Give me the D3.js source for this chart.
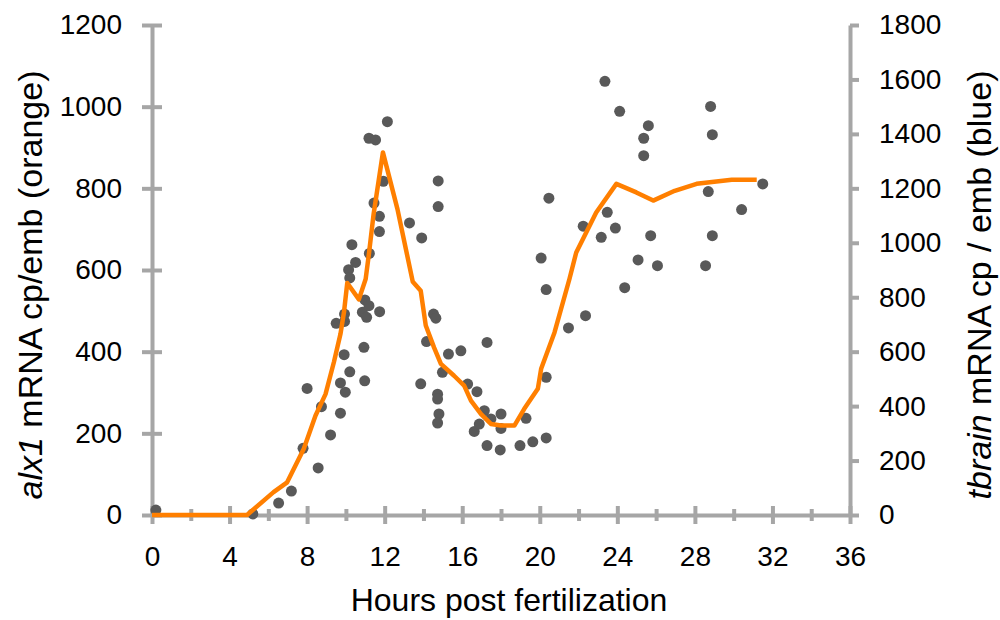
<!DOCTYPE html>
<html>
<head>
<meta charset="utf-8">
<script src="https://cdn.jsdelivr.net/npm/d3@7"></script>
<style>
  html, body { margin: 0; padding: 0; background: #fff; }
  svg { display: block; font-family: "Liberation Sans", Arial, sans-serif; }
</style>
</head>
<body>
<svg id="chart" width="1000" height="620"></svg>
<script>
// ---- data ----
const xTicks = [0, 4, 8, 12, 16, 20, 24, 28, 32, 36];
const xMinorTicks = [2, 6, 10, 14, 18, 22, 26, 30, 34];
const leftTicks = [0, 200, 400, 600, 800, 1000, 1200];
const rightTicks = [0, 200, 400, 600, 800, 1000, 1200, 1400, 1600, 1800];

// alx1 (orange line, left axis): hours, copies/embryo
const alx1Hours = [0, 4.9, 6.27, 6.97, 7.83, 8.43, 8.95, 9.38, 9.72, 9.9, 10.07, 10.67, 11.02, 11.2, 11.43, 11.91,
  12.66, 13.45, 13.86, 14.12, 14.55, 14.9, 15.58, 16.1, 16.45, 16.97, 17.48, 18.0, 18.69, 19.2, 19.9, 20.07,
  20.76, 21.53, 21.88, 22.91, 23.95, 24.98, 25.85, 26.96, 28.09, 29.9, 31.19];
const alx1Values = [0, 0, 56, 80, 162, 243, 296, 374, 443, 496, 568, 528, 578, 644, 737, 888,
  749, 571, 549, 464, 410, 370, 341, 317, 280, 247, 223, 219, 219, 260, 309, 358,
  447, 578, 643, 741, 811, 790, 770, 794, 811, 821, 821];

// tbrain (dots, right axis): hours, copies/embryo
const tbrainHours = [0.2, 5.2, 6.53, 7.19, 7.79, 8.0, 8.57, 8.74, 9.21, 9.5, 9.72, 9.72, 9.91, 9.93, 9.93, 9.97,
  10.14, 10.2, 10.2, 10.31, 10.5, 10.85, 10.93, 10.97, 10.98, 11.07, 11.19, 11.19, 11.21, 11.45, 11.53, 11.73,
  11.73, 11.74, 11.93, 12.14, 13.28, 13.86, 13.91, 14.16, 14.52, 14.64, 14.73, 14.73, 14.76, 14.76, 14.8, 14.73,
  14.98, 15.29, 15.93, 16.28, 16.62, 16.76, 16.88, 17.14, 17.28, 17.28, 17.48, 17.96, 18.0, 18.0, 18.98, 19.29,
  19.64, 20.07, 20.33, 20.33, 20.33, 20.47, 21.48, 22.24, 22.36, 23.17, 23.36, 23.48, 23.9, 24.12, 24.38, 25.07,
  25.36, 25.36, 25.6, 25.72, 26.07, 28.55, 28.69, 28.81, 28.9, 28.9, 30.41, 31.5];
const tbrainValues = [18, 4, 44, 88, 245, 465, 173, 398, 294, 704, 374, 485, 589, 711, 738, 451,
  901, 871, 526, 993, 928, 745, 616, 493, 790, 726, 769, 1384, 961, 1146, 1378, 1097,
  1041, 747, 1226, 1445, 1073, 482, 1018, 637, 738, 723, 444, 426, 1227, 1133, 371, 338,
  524, 591, 603, 481, 307, 453, 334, 383, 634, 255, 353, 239, 371, 318, 255, 355,
  269, 944, 283, 506, 828, 1164, 687, 1061, 732, 1020, 1593, 1112, 1054, 1483, 835, 937,
  1384, 1320, 1430, 1026, 916, 916, 1188, 1501, 1397, 1026, 1122, 1216];

// ---- chart ----
const svg = d3.select("#chart");
const axisColor = "#a6a6a6";
const x = d3.scaleLinear().domain([0, 36]).range([152, 850]);
const yL = d3.scaleLinear().domain([0, 1200]).range([515, 25]);
const yR = d3.scaleLinear().domain([0, 1800]).range([515, 25]);

function styleAxis(g) {
  g.selectAll("path.domain").attr("stroke", axisColor).attr("stroke-width", 4);
  g.selectAll(".tick line").attr("stroke", axisColor).attr("stroke-width", 4);
  g.selectAll(".tick text").attr("fill", "#000").attr("font-size", 28)
    .attr("font-family", "'Liberation Sans', Arial, sans-serif");
}

// x minor ticks
const gxm = svg.append("g").attr("transform", `translate(0,${yL(0)})`)
  .call(d3.axisBottom(x).tickValues(xMinorTicks).tickFormat("").tickSizeOuter(0));
gxm.select("path.domain").remove();
gxm.selectAll(".tick line").attr("y1", -6).attr("y2", 6);
styleAxis(gxm);

// x major
const gx = svg.append("g").attr("transform", `translate(0,${yL(0)})`)
  .call(d3.axisBottom(x).tickValues(xTicks).tickFormat(d3.format("d")).tickSizeOuter(0));
gx.selectAll(".tick line").attr("y1", -9).attr("y2", 9);
gx.selectAll(".tick text").attr("y", 51).attr("dy", 0);
styleAxis(gx);

// left axis
const gl = svg.append("g").attr("transform", `translate(${x(0)},0)`)
  .call(d3.axisLeft(yL).tickValues(leftTicks).tickFormat(d3.format("d")).tickSizeOuter(0));
gl.selectAll(".tick line").attr("x1", -10).attr("x2", 10);
gl.selectAll(".tick text").attr("x", -30);
styleAxis(gl);

// right axis
const gr = svg.append("g").attr("transform", `translate(${x(36)},0)`)
  .call(d3.axisRight(yR).tickValues(rightTicks).tickFormat(d3.format("d")).tickSizeOuter(0).tickSizeInner(9));
gr.selectAll(".tick text").attr("x", 29);
styleAxis(gr);

// dots
svg.append("g").selectAll("circle")
  .data(tbrainHours.map((h, i) => [h, tbrainValues[i]]))
  .join("circle")
  .attr("cx", d => x(d[0]))
  .attr("cy", d => yR(d[1]))
  .attr("r", 5.5)
  .attr("fill", "#595959");

// orange line
const line = d3.line().x(d => x(d[0])).y(d => yL(d[1]));
svg.append("path")
  .datum(alx1Hours.map((h, i) => [h, alx1Values[i]]))
  .attr("d", line)
  .attr("fill", "none")
  .attr("stroke", "#ff7f00")
  .attr("stroke-width", 4.5)
  .attr("stroke-linejoin", "round");

// titles
svg.append("text")
  .attr("x", 509).attr("y", 611)
  .attr("text-anchor", "middle")
  .attr("font-size", 32)
  .text("Hours post fertilization");

const lt = svg.append("text")
  .attr("transform", "translate(42,285) rotate(-90)")
  .attr("text-anchor", "middle")
  .attr("font-size", 34);
lt.append("tspan").attr("font-style", "italic").text("alx1");
lt.append("tspan").text(" mRNA cp/emb (orange)");

const rt = svg.append("text")
  .attr("transform", "translate(991,285) rotate(-90)")
  .attr("text-anchor", "middle")
  .attr("font-size", 34);
rt.append("tspan").attr("font-style", "italic").text("tbrain");
rt.append("tspan").text(" mRNA cp / emb (blue)");
</script>
</body>
</html>
